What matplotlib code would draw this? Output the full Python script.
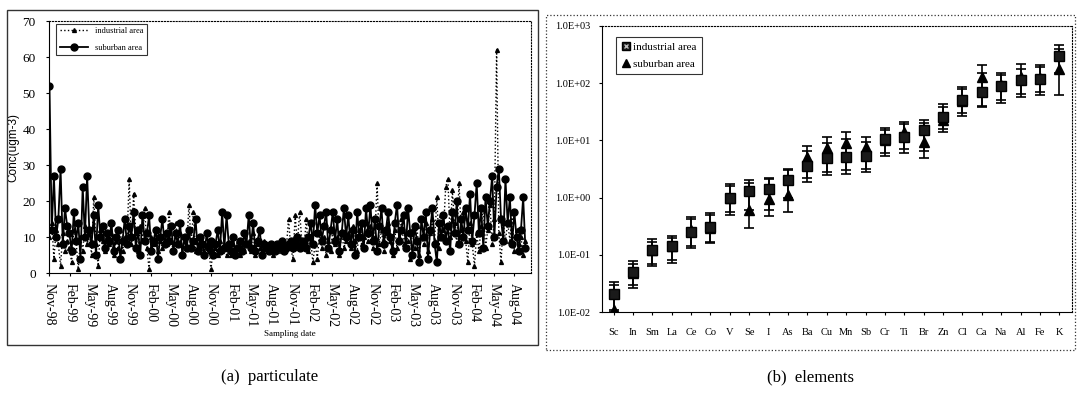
import numpy as np
import pandas as pd
import matplotlib
matplotlib.use("Agg")
import matplotlib.pyplot as plt
import matplotlib.dates as mdates
from matplotlib.patches import Rectangle

plt.rcParams['font.family'] = ['Liberation Serif', 'DejaVu Serif']

# -----------------------------
# (a) particulate: 10-day samples, one row per quarter (Nov-98 ...)
# -----------------------------
start_date = "1998-11-01"
sample_step = "10D"

suburban = [
    52, 12, 27, 10, 15, 29, 8, 18, 13,
    11, 6, 17, 9, 14, 4, 24, 10, 27,
    12, 8, 16, 5, 19, 10, 13, 7, 11,
    9, 14, 6, 10, 12, 4, 9, 15, 8,
    13, 10, 17, 7, 12, 5, 16, 9, 11,
    16, 6, 9, 12, 4, 10, 15, 8, 11,
    9, 13, 6, 11, 8, 14, 5, 10, 7,
    12, 7, 9, 15, 6, 10, 8, 5, 11,
    7, 9, 5, 8, 12, 6, 17, 7, 16,
    8, 6, 10, 5, 7, 9, 6, 11, 8,
    16, 7, 14, 6, 9, 12, 5, 8, 7,
    6, 8, 7, 6, 8, 7, 9, 6, 7,
    8, 9, 7, 8, 10, 7, 9, 8, 7,
    10, 14, 8, 19, 11, 16, 9, 13, 17,
    7, 12, 17, 9, 15, 6, 11, 18, 10,
    16, 8, 12, 5, 17, 10, 14, 7, 18,
    11, 19, 9, 15, 6, 13, 18, 8, 12,
    17, 10, 6, 14, 19, 9, 12, 16, 7,
    18, 11, 5, 13, 9, 3, 15, 10, 17,
    4, 12, 18, 8, 3, 14, 10, 16, 9,
    13, 6, 17, 11, 20, 8, 15, 10, 18,
    12, 22, 9, 16, 25, 11, 18, 7, 21,
    13, 20, 27, 10, 24, 29, 15, 9, 26,
    14, 21, 8, 17, 10, 6, 12, 21, 7,
]

industrial = [
    10, 14, 4, 12, 8, 2, 11, 6, 9,
    7, 3, 12, 9, 1, 10, 6, 13, 8,
    11, 5, 21, 8, 2, 12, 9, 6, 10,
    8, 11, 5, 9, 7, 12, 6, 10, 9,
    26, 8, 22, 11, 6, 13, 9, 18, 7,
    1, 10, 8, 12, 6, 9, 7, 11, 8,
    17, 9, 6, 14, 8, 11, 5, 9, 7,
    19, 8, 17, 6, 10, 7, 9, 5, 8,
    6, 1, 8, 7, 5, 9, 6, 8, 5,
    7, 5, 8, 6, 9, 5, 7, 6, 8,
    9, 6, 11, 5, 8, 7, 6, 9, 7,
    6, 7, 5, 8, 6, 7, 6, 8, 7,
    15, 7, 4, 16, 8, 17, 9, 7, 15,
    6, 9, 3, 8, 4, 11, 7, 10, 5,
    9, 6, 12, 8, 10, 5, 11, 7, 9,
    11, 7, 13, 9, 6, 12, 8, 10, 14,
    9, 13, 7, 10, 25, 8, 12, 6, 11,
    14, 9, 5, 12, 7, 10, 15, 8, 11,
    9, 4, 12, 7, 13, 5, 10, 8, 14,
    6, 11, 15, 9, 21, 7, 16, 12, 24,
    26, 10, 23, 14, 8, 25, 12, 17, 9,
    3, 14, 8, 2, 11, 6, 13, 18, 7,
    12, 19, 8, 15, 62, 11, 3, 14, 9,
    14, 9, 17, 6, 12, 8, 10, 5, 9,
]

# -----------------------------
# (b) elements: mean and error-bar range (low, high)
# -----------------------------
elements = ["Sc", "In", "Sm", "La", "Ce", "Co", "V", "Se", "I", "As", "Ba", "Cu",
            "Mn", "Sb", "Cr", "Ti", "Br", "Zn", "Cl", "Ca", "Na", "Al", "Fe", "K"]
ind_mean = [0.021, 0.05, 0.12, 0.14, 0.25, 0.31, 0.97, 1.3, 1.4, 2.0, 3.5, 4.9,
            5.1, 5.3, 10.5, 11.5, 15, 26, 51, 70, 89, 114, 117, 300]
ind_low = [0.011, 0.026, 0.063, 0.072, 0.14, 0.16, 0.5, 0.6, 0.6, 1.0, 1.9, 2.5,
           2.6, 2.8, 5.3, 6.0, 6.5, 14, 27, 38, 45, 57, 62, 150]
ind_high = [0.033, 0.078, 0.19, 0.21, 0.45, 0.53, 1.7, 2.0, 2.1, 3.2, 6.5, 9.0,
            10.5, 9.5, 16.5, 19, 22.5, 43, 86, 150, 150, 180, 190, 470]
sub_mean = [0.011, 0.048, 0.12, 0.14, 0.27, 0.29, 1.0, 0.6, 0.95, 1.1, 5.1, 7.4,
            9.0, 7.6, 10, 14, 9.3, 23, 48, 130, 92, 130, 125, 177]
sub_low = [0.01, 0.03, 0.07, 0.08, 0.13, 0.17, 0.55, 0.3, 0.48, 0.56, 2.2, 2.8,
           3.0, 3.2, 6.0, 7.0, 4.9, 16, 30, 40, 50, 65, 70, 62]
sub_high = [0.03, 0.07, 0.17, 0.2, 0.42, 0.5, 1.6, 1.8, 2.2, 3.0, 7.9, 11.4,
            14, 11.5, 15, 21, 20, 38, 80, 208, 140, 215, 208, 400]

dates = pd.date_range(start_date, periods=len(suburban), freq=sample_step)

fig = plt.figure(figsize=(10.78, 3.93), dpi=100)

# рамки панелей
fig.patches.append(Rectangle((0.0065, 0.122), 0.4926, 0.852, transform=fig.transFigure,
                             fill=False, edgecolor='#333333', linewidth=1.0))
fig.patches.append(Rectangle((0.5065, 0.109), 0.4907, 0.852, transform=fig.transFigure,
                             fill=False, edgecolor='#333333', linewidth=0.9, linestyle=':'))

# -----------------------------
# (a)
# -----------------------------
ax1 = fig.add_axes([0.0455, 0.3053, 0.447, 0.641])
ax1.plot(dates, industrial, linestyle=':', color='black', linewidth=1.0,
         marker='^', markersize=2.8, label='industrial area')
ax1.plot(dates, suburban, linestyle='-', color='black', linewidth=1.3,
         marker='o', markersize=5, label='suburban area')
ax1.set_ylim(0, 70)
ax1.set_yticks(range(0, 71, 10))
ax1.set_xlim(pd.Timestamp("1998-10-30"), pd.Timestamp("2004-10-15"))
ax1.xaxis.set_major_locator(mdates.MonthLocator(bymonth=(2, 5, 8, 11)))
ax1.xaxis.set_major_formatter(mdates.DateFormatter('%b-%y'))
for lbl in ax1.get_xticklabels():
    lbl.set_rotation(-90)
ax1.tick_params(axis='x', labelsize=10, length=2.5, width=0.8, pad=5)
ax1.tick_params(axis='y', labelsize=9.5, length=2.5, width=0.8, pad=7)
ax1.set_ylabel('Conc(ugm-3)', fontsize=8.5, family=['Liberation Sans', 'DejaVu Sans'],
               labelpad=2)
ax1.set_xlabel('Sampling date', fontsize=6.5, labelpad=2)
ax1.spines['top'].set_linestyle(':')
ax1.spines['right'].set_linestyle(':')
leg1 = ax1.legend(loc='upper left', fontsize=6, frameon=True, fancybox=False,
                  borderaxespad=0.3, handlelength=3.4, labelspacing=1.1,
                  bbox_to_anchor=(0.01, 1.0))
leg1.get_frame().set_edgecolor('black')
leg1.get_frame().set_linewidth(0.8)

# -----------------------------
# (b)
# -----------------------------
ax2 = fig.add_axes([0.5584, 0.206, 0.436, 0.728])
x = np.arange(len(elements))
ind_mean_a = np.array(ind_mean)
sub_mean_a = np.array(sub_mean)
ax2.errorbar(x, sub_mean_a,
             yerr=[sub_mean_a - np.array(sub_low), np.array(sub_high) - sub_mean_a],
             fmt='^', color='black', markersize=6.5, capsize=3.8, elinewidth=1.2, capthick=1.2)
ax2.errorbar(x, ind_mean_a,
             yerr=[ind_mean_a - np.array(ind_low), np.array(ind_high) - ind_mean_a],
             fmt='s', color='black', markersize=7, capsize=3.8, elinewidth=1.2, capthick=1.2,
             markerfacecolor='#1a1a1a')
ax2.plot(x, ind_mean_a, linestyle='none', marker='x', markersize=2.8, color='#bbbbbb',
         markeredgewidth=0.8)
ax2.set_yscale('log')
ax2.set_ylim(1e-2, 1e3)
ax2.set_xlim(-0.6, len(elements) - 0.35)
ax2.set_yticks([1e-2, 1e-1, 1e0, 1e1, 1e2, 1e3])
ax2.set_yticklabels(['1.0E-02', '1.0E-01', '1.0E+00', '1.0E+01', '1.0E+02', '1.0E+03'])
ax2.yaxis.set_minor_locator(matplotlib.ticker.NullLocator())
ax2.set_xticks(x)
ax2.set_xticklabels(elements)
ax2.tick_params(axis='both', labelsize=7.5, length=2.5, width=0.8)
ax2.tick_params(axis='x', pad=9)
ax2.tick_params(axis='y', pad=6)
ax2.spines['top'].set_linestyle(':')
ax2.spines['right'].set_linestyle(':')

h_sq = plt.Line2D([], [], linestyle='none', marker='s', markersize=6, color='black',
                  markerfacecolor='#1a1a1a')
h_x = plt.Line2D([], [], linestyle='none', marker='x', markersize=2.5, color='#bbbbbb')
h_tri = plt.Line2D([], [], linestyle='none', marker='^', markersize=6, color='black')
leg2 = ax2.legend([(h_sq, h_x), h_tri], ['industrial area', 'suburban area'],
                  loc='upper left', fontsize=8, frameon=True, fancybox=False,
                  handlelength=0.8, handletextpad=0.3, borderaxespad=0.6,
                  labelspacing=0.6, borderpad=0.5,
                  bbox_to_anchor=(0.015, 0.985))
leg2.get_frame().set_edgecolor('black')
leg2.get_frame().set_linewidth(0.8)

# подписи панелей
fig.text(0.250, 0.04, '(a)  particulate', ha='center', va='center', fontsize=12)
fig.text(0.752, 0.04, '(b)  elements', ha='center', va='center', fontsize=12)

fig.savefig('out.png', dpi=100)
